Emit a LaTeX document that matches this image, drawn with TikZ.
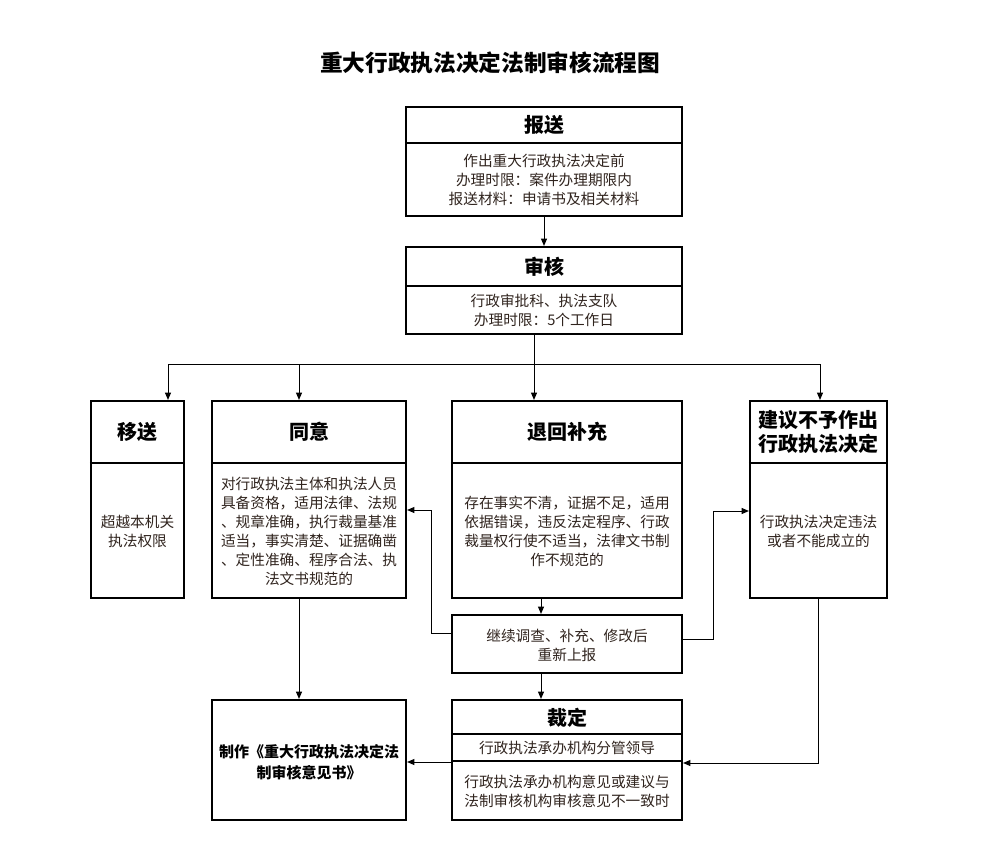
\documentclass[tikz,border=0pt]{standalone}
\usepackage{fontspec}
\setmainfont{Noto Sans CJK SC}
\usetikzlibrary{arrows.meta}
\definecolor{bodytxt}{RGB}{48,36,30}
\tikzset{
  box/.style={draw=black, line width=1.6pt, rectangle, inner sep=0pt},
  divline/.style={draw=black, line width=1.6pt},
  hdr/.style={font=\bfseries\fontsize{15pt}{18.5pt}\selectfont, align=center, text=black, inner sep=0pt},
  body/.style={font=\fontsize{11pt}{14.25pt}\selectfont, align=center, text=bodytxt, inner sep=0pt},
  conn/.style={draw=black, line width=0.75pt},
  arr/.style={conn, -{Triangle[length=5.5pt,width=4.5pt]}},
}
\begin{document}
\begin{tikzpicture}[x=0.75pt,y=-0.75pt]
\useasboundingbox (0,0) rectangle (991,852);
\fill[white] (0,0) rectangle (991,852);

% main title
\node[font=\bfseries\fontsize{17pt}{20pt}\selectfont, inner sep=0pt] (title) at (490,63) {重大行政执法决定法制审核流程图};

% boxes
\node[box, minimum width=207pt, minimum height=81.75pt] (bs) at (544,161.5) {};
\node[box, minimum width=207pt, minimum height=65.25pt] (sh) at (544,290.5) {};
\node[box, minimum width=69.75pt, minimum height=147.75pt] (ys) at (137.5,499.5) {};
\node[box, minimum width=145.5pt, minimum height=147.75pt] (ty) at (309,499.5) {};
\node[box, minimum width=172.5pt, minimum height=147.75pt] (th) at (567,499.5) {};
\node[box, minimum width=102.75pt, minimum height=147.75pt] (jy) at (818.5,499.5) {};
\node[box, minimum width=172.5pt, minimum height=43.5pt] (jx) at (567,644) {};
\node[box, minimum width=172.5pt, minimum height=90pt] (cd) at (567,760) {};
\node[box, minimum width=145.5pt, minimum height=90pt] (zz) at (309,760) {};

% dividers
\coordinate (d1) at (0,143);
\coordinate (d2) at (0,286);
\coordinate (d3) at (0,463);
\coordinate (d4) at (0,734);
\coordinate (d5) at (0,761);
\draw[divline] (bs.west |- d1) -- (bs.east |- d1);
\draw[divline] (sh.west |- d2) -- (sh.east |- d2);
\draw[divline] (ys.west |- d3) -- (ys.east |- d3);
\draw[divline] (ty.west |- d3) -- (ty.east |- d3);
\draw[divline] (th.west |- d3) -- (th.east |- d3);
\draw[divline] (jy.west |- d3) -- (jy.east |- d3);
\draw[divline] (cd.west |- d4) -- (cd.east |- d4);
\draw[divline] (cd.west |- d5) -- (cd.east |- d5);

% texts
\node[hdr] (bsh) at (544,125) {报送};
\node[body] (bsb) at (544,180) {作出重大行政执法决定前\\办理时限：案件办理期限内\\报送材料：申请书及相关材料};
\node[hdr] (shh) at (544,267) {审核};
\node[body] (shb) at (544,310) {行政审批科、执法支队\\办理时限：5个工作日};
\node[hdr] (ysh) at (137.5,432) {移送};
\node[body] (ysb) at (137.5,531.5) {超越本机关\\执法权限};
\node[hdr] (tyh) at (309,432) {同意};
\node[body] (tyb) at (309,531.5) {对行政执法主体和执法人员\\具备资格，适用法律、法规\\、规章准确，执行裁量基准\\适当，事实清楚、证据确凿\\、定性准确、程序合法、执\\法文书规范的};
\node[hdr] (thh) at (567,432) {退回补充};
\node[body] (thb) at (567,531.5) {存在事实不清，证据不足，适用\\依据错误，违反法定程序、行政\\裁量权行使不适当，法律文书制\\作不规范的};
\node[hdr] (jyh) at (818.5,432) {建议不予作出\\行政执法决定};
\node[body] (jyb) at (818.5,531.5) {行政执法决定违法\\或者不能成立的};
\node[body] (jxb) at (567,645) {继续调查、补充、修改后\\重新上报};
\node[hdr] (cdh) at (567,718) {裁定};
\node[body] (cdm) at (567,748) {行政执法承办机构分管领导};
\node[body] (cdb) at (567,791) {行政执法承办机构意见或建议与\\法制审核机构审核意见不一致时};
\node[font=\bfseries\fontsize{11.25pt}{15.75pt}\selectfont, align=center, inner sep=0pt] (zzb) at (309,762) {制作《重大行政执法决定法\\制审核意见书》};

% connectors
\draw[arr] (bs.south) -- (sh.north);
\coordinate (jn) at (534,364);
\coordinate (jl) at (168,364);
\coordinate (j2) at (299,364);
\coordinate (jr) at (820,364);
\draw[conn] (sh.south -| jn) -- (jn);
\draw[conn] (jl) -- (jr);
\draw[arr] (jl) -- (jl |- ys.north);
\draw[arr] (j2) -- (j2 |- ty.north);
\draw[arr] (jn) -- (jn |- th.north);
\draw[arr] (jr) -- (jr |- jy.north);

\coordinate (mx) at (541,0);
\draw[arr] (th.south -| mx) -- (jx.north -| mx);
\draw[arr] (jx.south -| mx) -- (cd.north -| mx);
\draw[arr] (ty.south -| j2) -- (zz.north -| j2);

\coordinate (h1) at (0,762);
\draw[arr] (cd.west |- h1) -- (zz.east |- h1);

\coordinate (fl1) at (431,633);
\coordinate (fl) at (431,510);
\draw[arr] (jx.west |- fl1) -- (fl1) -- (fl) -- (ty.east |- fl);

\coordinate (fr1) at (713,639);
\coordinate (fr) at (713,511);
\draw[arr] (jx.east |- fr1) -- (fr1) -- (fr) -- (jy.west |- fr);

\coordinate (fd) at (818,763);
\draw[arr] (jy.south -| fd) -- (fd) -- (cd.east |- fd);
\end{tikzpicture}
\end{document}
